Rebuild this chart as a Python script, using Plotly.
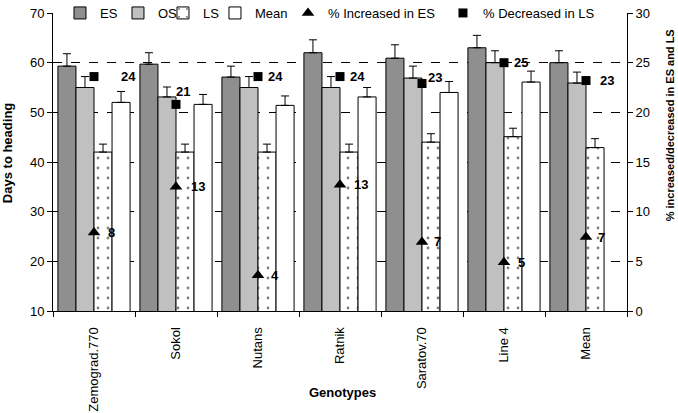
import plotly.graph_objects as go

genotypes = ["Zemograd.770", "Sokol", "Nutans", "Ratnik", "Saratov.70", "Line 4", "Mean"]

es = [59.3, 59.7, 57.1, 62.0, 60.9, 63.0, 60.0]
os_ = [55.0, 53.1, 55.0, 55.0, 56.9, 60.0, 55.9]
ls = [42.0, 42.0, 42.0, 42.0, 44.0, 45.1, 42.9]
mean = [52.0, 51.6, 51.4, 53.1, 54.0, 56.1, None]

es_err = [2.5, 2.3, 2.2, 2.6, 2.7, 2.5, 2.4]
os_err = [2.2, 2.0, 2.2, 2.2, 2.4, 2.4, 2.2]
ls_err = [1.6, 1.6, 1.6, 1.6, 1.7, 1.7, 1.8]
mean_err = [2.2, 2.0, 1.9, 1.9, 2.2, 2.2, 0]

pct_inc_es = [7.9, 12.5, 3.6, 12.7, 6.95, 4.9, 7.45]
pct_inc_labels = ["8", "13", "4", "13", "7", "5", "7"]
pct_dec_ls = [23.6, 20.8, 23.6, 23.6, 22.9, 25.0, 23.2]
pct_dec_labels = ["24", "21", "24", "24", "23", "25", "23"]

# label offsets (pixels) for the value annotations
inc_xshift = [12, 13, 11, 12, 10, 12, 10]
inc_yshift = [0, 0, 0, 0, 0, 0, 0]
dec_xshift = [25, -2, 8, 8, 4, 8, 12]
dec_yshift = [0, 13, 0, 0, 6, 0, 0]

FONT = "Liberation Sans, Arial, sans-serif"

fig = go.Figure()

def bar(name, vals, errs, color, legend, pattern=None):
    marker = dict(color=color, line=dict(color="black", width=1))
    if pattern:
        marker["pattern"] = pattern
    fig.add_trace(go.Bar(
        name=name, x=genotypes, y=vals, marker=marker, legend=legend,
        error_y=dict(type="data", symmetric=False, array=errs,
                     arrayminus=[0] * len(errs), color="black",
                     thickness=1, width=4),
    ))

bar("ES", es, es_err, "#8f8f8f", "legend")
bar("OS", os_, os_err, "#c0c0c0", "legend2")
bar("LS", ls, ls_err, "white", "legend3",
    pattern=dict(shape=".", fgcolor="black", bgcolor="white", size=10, solidity=0.06))
bar("Mean", mean, mean_err, "white", "legend4")

fig.add_trace(go.Scatter(
    name="% Increased in ES", x=genotypes, y=pct_inc_es, yaxis="y2", legend="legend5",
    mode="markers", marker=dict(symbol="triangle-up", size=11, color="black"),
))
fig.add_trace(go.Scatter(
    name="% Decreased in LS", x=genotypes, y=pct_dec_ls, yaxis="y2", legend="legend6",
    mode="markers", marker=dict(symbol="square", size=9, color="black"),
))

annotations = []
for i, g in enumerate(genotypes):
    annotations.append(dict(x=g, y=pct_inc_es[i], xref="x", yref="y2",
                            text="<b>%s</b>" % pct_inc_labels[i], showarrow=False,
                            xanchor="left", yanchor="middle",
                            xshift=inc_xshift[i], yshift=inc_yshift[i],
                            font=dict(family=FONT, size=13, color="black")))
    annotations.append(dict(x=g, y=pct_dec_ls[i], xref="x", yref="y2",
                            text="<b>%s</b>" % pct_dec_labels[i], showarrow=False,
                            xanchor="left", yanchor="middle",
                            xshift=dec_xshift[i], yshift=dec_yshift[i],
                            font=dict(family=FONT, size=13, color="black")))

# axis titles as annotations (placed like the reference)
annotations.append(dict(text="<b>Genotypes</b>", x=0.504, y=-0.275, xref="paper", yref="paper",
                        showarrow=False, xanchor="center", yanchor="middle",
                        font=dict(family=FONT, size=13)))
annotations.append(dict(text="<b>Days to heading</b>", x=-0.080, y=0.53, xref="paper", yref="paper",
                        showarrow=False, xanchor="center", yanchor="middle", textangle=-90,
                        font=dict(family=FONT, size=13)))
annotations.append(dict(text="<b>% increased/decreased in ES and LS</b>", x=1.0748, y=0.623,
                        xref="paper", yref="paper",
                        showarrow=False, xanchor="center", yanchor="middle", textangle=-90,
                        font=dict(family=FONT, size=11)))

legend_x = [0.0331, 0.1341, 0.2125, 0.3031, 0.4303, 0.7003]
legends = {}
for k, lx in enumerate(legend_x):
    key = "legend" if k == 0 else "legend%d" % (k + 1)
    legends[key] = dict(orientation="h", x=lx, xanchor="left", y=1.0, yanchor="middle",
                        bgcolor="rgba(0,0,0,0)", font=dict(family=FONT, size=13),
                        itemwidth=30, borderwidth=0, indentation=-12)

# white band hiding the top gridline behind the legend (as in the reference)
shapes = [dict(type="rect", xref="paper", yref="paper", x0=0.0296, x1=0.965,
               y0=0.97, y1=1.03, fillcolor="white", line=dict(width=0), layer="above")]

fig.update_layout(
    width=678, height=413,
    margin=dict(l=53, r=51, t=13, b=102, autoexpand=False),
    paper_bgcolor="white", plot_bgcolor="white",
    barmode="group", bargap=0.12, bargroupgap=0,
    font=dict(family=FONT, size=13, color="black"),
    showlegend=True,
    xaxis=dict(
        type="category", showline=True, linecolor="black", linewidth=1,
        ticks="outside", tickson="boundaries", ticklen=5, tickcolor="black",
        tickangle=-90, tickfont=dict(family=FONT, size=13), ticklabelstandoff=10,
        showgrid=False, mirror=False, automargin=False,
    ),
    yaxis=dict(
        range=[10, 70], dtick=10, showline=True, linecolor="black", linewidth=1,
        ticks="outside", ticklen=5, tickcolor="black",
        showgrid=True, gridcolor="black", griddash="dash", gridwidth=1,
        zeroline=False, automargin=False,
        tickfont=dict(family=FONT, size=13),
    ),
    yaxis2=dict(
        range=[0, 30], dtick=5, overlaying="y", side="right",
        showline=True, linecolor="black", linewidth=1, automargin=False,
        ticks="outside", ticklen=5, tickcolor="black", showgrid=False, zeroline=False,
        tickfont=dict(family=FONT, size=13),
    ),
    annotations=annotations,
    shapes=shapes,
    **legends,
)

fig.write_html("out.html", config={"displayModeBar": False},
               post_script="document.body.style.margin='0px';")
